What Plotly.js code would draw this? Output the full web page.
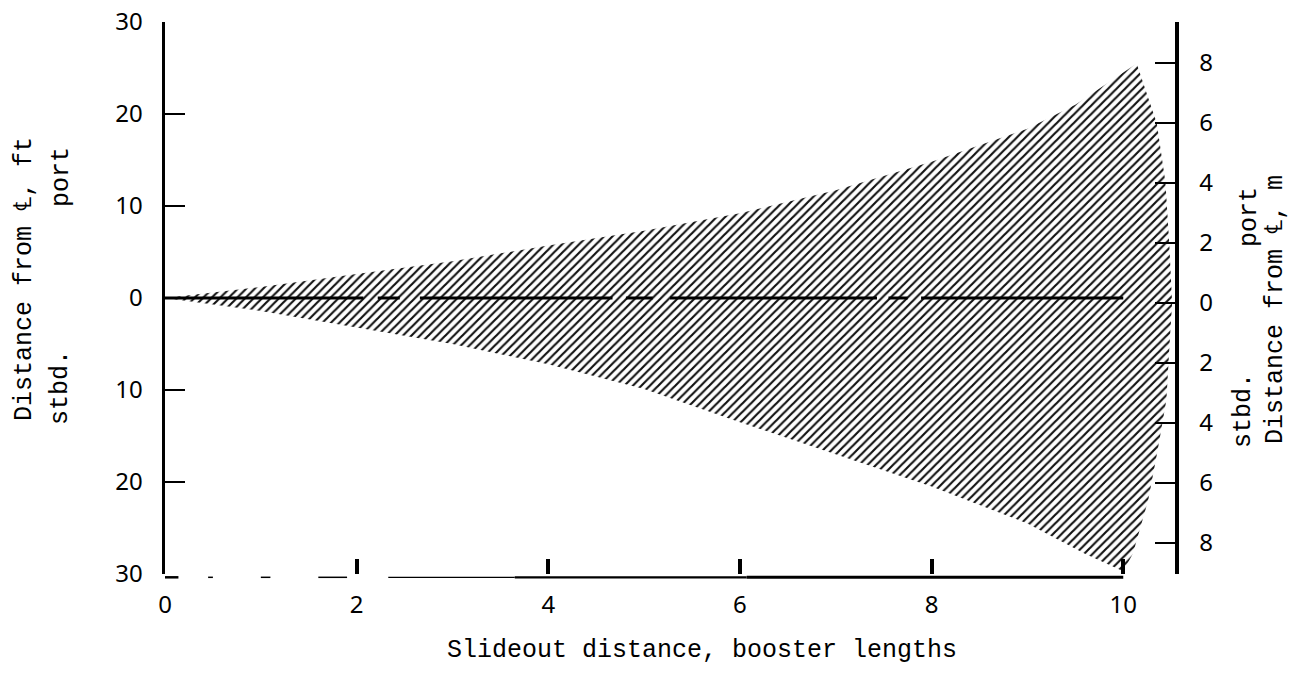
<!DOCTYPE html>
<html>
<head>
<meta charset="utf-8">
<script src="https://cdn.plot.ly/plotly-3.0.1.min.js"></script>
<style>
  html, body { margin: 0; padding: 0; background: #fff; }
  #chart { width: 1300px; height: 680px; }
</style>
</head>
<body>
<div id="chart"></div>
<script>
// ---- Data (x in booster lengths, y in ft; + = port, - = stbd.) ----
const upperX = [0, 1, 2, 3, 4, 5, 6, 7, 8, 9, 9.5, 10.14];
const upperY = [0, 1.2, 2.6, 4.0, 5.7, 7.3, 9.2, 11.7, 14.8, 18.4, 21.0, 25.5];
const arcX = [10.35, 10.44, 10.48, 10.51, 10.49, 10.45, 10.36, 10.26, 10.10];
const arcY = [19.0, 12.6, 5.9, -0.6, -3.8, -11.1, -16.5, -22.0, -27.8];
const lowerX = [10.0, 9.6, 9, 8, 7, 6, 5, 4, 3, 2, 1, 0];
const lowerY = [-29.7, -27.8, -24.5, -20.5, -17.0, -13.5, -9.9, -7.2, -5.0, -3.2, -1.4, 0];

// centre line (long-short dashed) segments
const centerX = [0, 2.07, null, 2.22, 2.45, null, 2.66, 4.67, null, 4.81, 5.09, null, 5.27, 7.43, null, 7.55, 7.75, null, 7.89, 10.0];
const centerY = [0, 0, null, 0, 0, null, 0, 0, null, 0, 0, null, 0, 0, null, 0, 0, null, 0, 0];

// tick labels
const xTickVals = [0, 2, 4, 6, 8, 10];
const xTickText = ['0', '2', '4', '6', '8', '10'];
const ftTickVals = [30, 20, 10, 0, -10, -20, -30];
const ftTickText = ['30', '20', '10', '0', '10', '20', '30'];
const mTickVals = [8, 6, 4, 2, 0, -2, -4, -6, -8];
const mTickText = ['8', '6', '4', '2', '0', '2', '4', '6', '8'];

// bottom axis pieces (broken / thin on the left as in the print)
const axisSegX0 = [0, 0.45, 1.0, 1.6, 2.33, 3.65, 6.07];
const axisSegX1 = [0.14, 0.5, 1.1, 1.9, 3.65, 6.07, 10.0];
const axisSegW  = [2.5, 1.5, 1.5, 1.5, 1.2, 2.2, 3.0];

// ---- Build traces ----
const polyX = upperX.concat(arcX, lowerX);
const polyY = upperY.concat(arcY, lowerY);

const MONO = '"Liberation Mono", "DejaVu Sans Mono", monospace';
const SANS = '"Noto Sans", "DejaVu Sans", sans-serif';

const traces = [
  {
    x: polyX, y: polyY, type: 'scatter', mode: 'lines',
    fill: 'toself', fillcolor: 'rgba(255,255,255,0)',
    fillpattern: { shape: '/', size: 6, solidity: 0.36, fgcolor: '#111', bgcolor: 'rgba(255,255,255,0)' },
    line: { width: 0, color: 'rgba(0,0,0,0)' },
    hoverinfo: 'skip', showlegend: false
  },
  {
    x: centerX, y: centerY, type: 'scatter', mode: 'lines',
    line: { color: '#000', width: 3 }, connectgaps: false,
    hoverinfo: 'skip', showlegend: false
  },
  {
    // invisible trace to activate the right (metre) axis
    x: [0], y: [0], yaxis: 'y2', type: 'scatter', mode: 'markers',
    marker: { opacity: 0 }, hoverinfo: 'skip', showlegend: false
  }
];

const shapes = axisSegX0.map((x0, i) => ({
  type: 'line', xref: 'x', yref: 'paper', x0: x0, x1: axisSegX1[i], y0: -0.006, y1: -0.006,
  line: { color: '#000', width: axisSegW[i] }
}));

const annotations = [
  { text: 'Slideout distance, booster lengths', xref: 'paper', yref: 'paper',
    x: (702 - 165) / 1010, y: (574 - 650) / 552, xanchor: 'center', yanchor: 'middle',
    showarrow: false, font: { family: MONO, size: 25, color: '#000' } },
  { text: 'Distance from \u2104, ft', xref: 'paper', yref: 'paper',
    x: (24 - 165) / 1010, y: (574 - 279) / 552, xanchor: 'center', yanchor: 'middle',
    textangle: -90, showarrow: false, font: { family: MONO, size: 25, color: '#000' } },
  { text: 'stbd.', xref: 'paper', yref: 'paper',
    x: (60 - 165) / 1010, y: (574 - 388) / 552, xanchor: 'center', yanchor: 'middle',
    textangle: -90, showarrow: false, font: { family: MONO, size: 25, color: '#000' } },
  { text: 'port', xref: 'paper', yref: 'paper',
    x: (61 - 165) / 1010, y: (574 - 177) / 552, xanchor: 'center', yanchor: 'middle',
    textangle: -90, showarrow: false, font: { family: MONO, size: 25, color: '#000' } },
  { text: 'Distance from \u2104, m', xref: 'paper', yref: 'paper',
    x: (1275 - 165) / 1010, y: (574 - 310) / 552, xanchor: 'center', yanchor: 'middle',
    textangle: -90, showarrow: false, font: { family: MONO, size: 25, color: '#000' } },
  { text: 'stbd.', xref: 'paper', yref: 'paper',
    x: (1243 - 165) / 1010, y: (574 - 411) / 552, xanchor: 'center', yanchor: 'middle',
    textangle: -90, showarrow: false, font: { family: MONO, size: 25, color: '#000' } },
  { text: 'port', xref: 'paper', yref: 'paper',
    x: (1249 - 165) / 1010, y: (574 - 217) / 552, xanchor: 'center', yanchor: 'middle',
    textangle: -90, showarrow: false, font: { family: MONO, size: 25, color: '#000' } }
];

const layout = {
  width: 1300, height: 680,
  margin: { l: 165, r: 125, t: 22, b: 106, pad: 0 },
  paper_bgcolor: '#fff', plot_bgcolor: '#fff',
  showlegend: false,
  xaxis: {
    range: [0, 10.54], showgrid: false, zeroline: false, showline: false,
    tickmode: 'array', tickvals: xTickVals, ticktext: xTickText,
    ticks: 'inside', ticklen: 15, tickwidth: 4, tickcolor: '#000',
    ticklabelstandoff: 14,
    tickfont: { family: SANS, size: 24, color: '#000' }
  },
  yaxis: {
    range: [-30, 30], showgrid: false, zeroline: false,
    showline: true, linewidth: 3.5, linecolor: '#000',
    tickmode: 'array', tickvals: ftTickVals, ticktext: ftTickText,
    ticks: 'inside', ticklen: 20, tickwidth: 2.5, tickcolor: '#000',
    ticklabelstandoff: 14,
    tickfont: { family: SANS, size: 24, color: '#000' }
  },
  yaxis2: {
    overlaying: 'y', side: 'right', anchor: 'x',
    range: [-9.033, 9.367], showgrid: false, zeroline: false,
    showline: true, linewidth: 3.5, linecolor: '#000',
    tickmode: 'array', tickvals: mTickVals, ticktext: mTickText,
    ticks: 'inside', ticklen: 20, tickwidth: 2.5, tickcolor: '#000',
    ticklabelstandoff: 16,
    tickfont: { family: SANS, size: 24, color: '#000' }
  },
  shapes: shapes,
  annotations: annotations
};

Plotly.newPlot('chart', traces, layout, { displayModeBar: false, staticPlot: true });
</script>
</body>
</html>
